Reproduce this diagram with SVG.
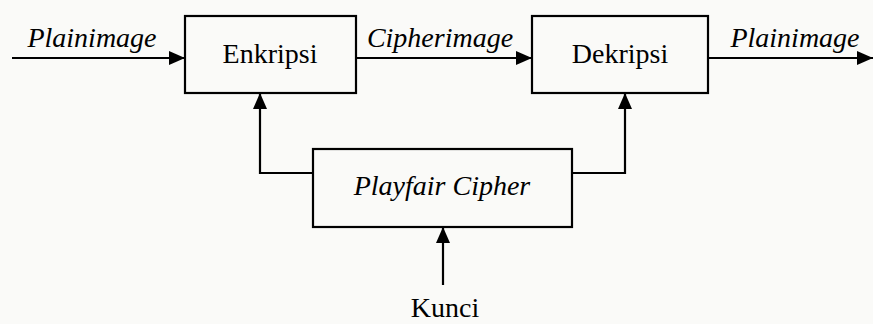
<svg xmlns="http://www.w3.org/2000/svg" width="873" height="324" viewBox="0 0 873 324">
<style>
.box{fill:none;stroke:#000;stroke-width:2.2}
.ln{fill:none;stroke:#000;stroke-width:2.2}
.t{font-family:"Liberation Serif","Times New Roman",serif;font-size:28px;fill:#000;text-anchor:middle}
.i{font-style:italic}
</style>
<defs>
<marker id="ah" viewBox="0 0 16 14" refX="16" refY="7" markerWidth="16" markerHeight="14" markerUnits="userSpaceOnUse" orient="auto">
<path d="M0,0 L16,7 L0,14 Z" fill="#000"/>
</marker>
</defs>
<rect width="873" height="324" fill="#fafaf8"/>
<g id="enkripsi"><rect class="box" x="185" y="16" width="171" height="77"/><text class="t" x="270" y="63">Enkripsi</text></g>
<g id="dekripsi"><rect class="box" x="532" y="16" width="176" height="77"/><text class="t" x="620" y="63">Dekripsi</text></g>
<g id="playfair"><rect class="box" x="313" y="149" width="259" height="78"/><text class="t i" x="442" y="195">Playfair Cipher</text></g>
<g id="kunci"><text class="t" x="445" y="317">Kunci</text></g>
<g id="connectors">
<path class="ln" d="M12,58 H185" marker-end="url(#ah)"/>
<path class="ln" d="M356,58 H532" marker-end="url(#ah)"/>
<path class="ln" d="M708,58 H873" marker-end="url(#ah)"/>
<path class="ln" d="M313,173 H260 V93" marker-end="url(#ah)"/>
<path class="ln" d="M572,173 H625 V93" marker-end="url(#ah)"/>
<path class="ln" d="M443,285 V227" marker-end="url(#ah)"/>
<text class="t i" x="92" y="47">Plainimage</text>
<text class="t i" x="440" y="47">Cipherimage</text>
<text class="t i" x="795" y="47">Plainimage</text>
</g>
</svg>
